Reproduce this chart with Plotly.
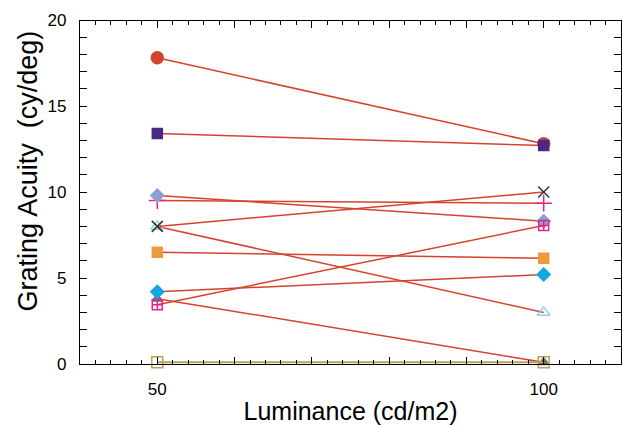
import plotly.graph_objects as go

luminance = [50, 100]

series_names = ["S1", "S2", "S3", "S4", "S5", "S6", "S7", "S8", "S9", "S10", "S11"]
acuity_50 = [17.8, 13.4, 9.8, 9.5, 8.0, 8.0, 6.5, 4.2, 3.8, 3.45, 0.1]
acuity_100 = [12.8, 12.7, 8.3, 9.35, 10.0, 3.0, 6.15, 5.2, 0.1, 8.05, 0.1]

marker_symbols = ["circle", "square", "diamond", "cross-thin-open", "x-thin-open",
                  "triangle-up-open", "square", "diamond", "triangle-up",
                  "square-cross-open", "square-open"]
marker_colors = ["#d5432f", "#4a2886", "#8d9fd2", "#e3248a", "#333333",
                 "#8ecff0", "#ec9a3a", "#12a6e2", "#707070", "#e3248a", "#b3a455"]
line_colors = ["#d5432f"] * 10 + ["#b3a455"]
marker_sizes = [12, 10, 10, 12, 11, 11, 10, 10, 9, 10, 11]

x_tickvals = [40, 50, 60, 70, 80, 90, 100, 110]
x_ticktext = ["", "50", "", "", "", "", "100", ""]
y_tickvals = [0, 5, 10, 15, 20]

FONT = "Liberation Sans, Arial, sans-serif"

fig = go.Figure()
order = [8, 7, 6, 5, 4, 3, 2, 9, 0, 1, 10]
for i in order:
    fig.add_trace(go.Scatter(
        x=luminance, y=[acuity_50[i], acuity_100[i]],
        mode="lines+markers", name=series_names[i],
        line=dict(color=line_colors[i], width=1.5 if i < 10 else 2),
        marker=dict(symbol=marker_symbols[i], size=marker_sizes[i], color=marker_colors[i],
                    line=dict(color=marker_colors[i], width=1.5)),
        showlegend=False, cliponaxis=False,
    ))
# invisible trace on a top axis so that its ticks are drawn
fig.add_trace(go.Scatter(x=[60], y=[10], xaxis="x2", mode="markers",
                         marker=dict(opacity=0), showlegend=False, hoverinfo="skip"))

axis_common = dict(
    showline=True, linecolor="black", linewidth=1.2,
    ticks="inside", tickcolor="black", ticklen=7, tickwidth=1,
    showgrid=False, zeroline=False, automargin=False,
)
text_fonts = dict(
    tickfont=dict(family=FONT, size=17, color="black"),
    title_font=dict(family=FONT, size=25, color="black"),
)

fig.update_layout(
    width=623, height=425,
    margin=dict(l=80, r=2, t=20, b=61, autoexpand=False),
    paper_bgcolor="white", plot_bgcolor="white",
    xaxis=dict(range=[40, 110], tickmode="array", tickvals=x_tickvals, ticktext=x_ticktext,
               minor=dict(dtick=2, ticks="inside", ticklen=4, tickcolor="black"),
               ticklabelstandoff=9,
               title=dict(text="Luminance (cd/m2)", standoff=4), **axis_common, **text_fonts),
    xaxis2=dict(range=[40, 110], overlaying="x", side="top", anchor="free", position=1,
                tickmode="array", tickvals=x_tickvals, showticklabels=False,
                minor=dict(dtick=2, ticks="inside", ticklen=4, tickcolor="black"),
                **axis_common),
    yaxis=dict(range=[0, 20], tickmode="array", tickvals=y_tickvals, mirror="allticks",
               minor=dict(dtick=1, ticks="inside", ticklen=4, tickcolor="black"),
               ticklabelstandoff=9, **axis_common, **text_fonts),
    annotations=[dict(text="Grating Acuity\u00a0 (cy/deg)", textangle=-90,
                      xref="paper", yref="paper", x=-0.096, y=0.56,
                      xanchor="center", yanchor="middle", showarrow=False,
                      font=dict(family=FONT, size=27, color="black"))],
)

fig.write_html("out.html", config={"displayModeBar": False},
               post_script="document.body.style.margin='0';")
